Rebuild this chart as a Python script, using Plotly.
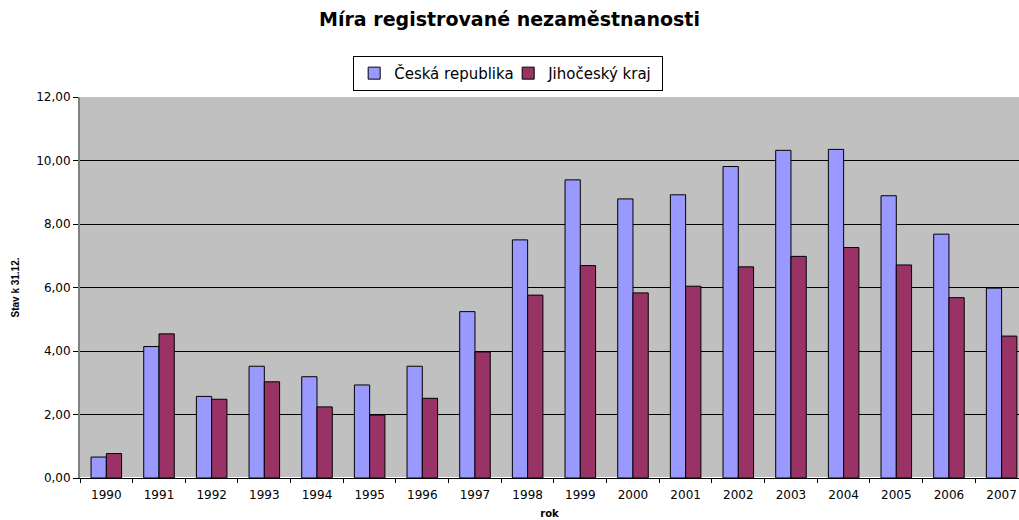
import plotly.graph_objects as go

years = ["1990", "1991", "1992", "1993", "1994", "1995", "1996", "1997", "1998",
         "1999", "2000", "2001", "2002", "2003", "2004", "2005", "2006", "2007"]
cr = [0.66, 4.14, 2.57, 3.52, 3.19, 2.93, 3.52, 5.24, 7.50,
      9.39, 8.79, 8.92, 9.81, 10.32, 10.35, 8.89, 7.68, 5.98]
jck = [0.77, 4.54, 2.48, 3.03, 2.24, 1.98, 2.51, 3.97, 5.76,
       6.69, 5.83, 6.04, 6.65, 6.98, 7.26, 6.71, 5.68, 4.47]
yticks = [0, 2, 4, 6, 8, 10, 12]

fig = go.Figure()
fig.add_trace(go.Bar(x=years, y=cr, name="Česká republika",
                     marker=dict(color="#9999FF", line=dict(color="black", width=1))))
fig.add_trace(go.Bar(x=years, y=jck, name="Jihočeský kraj",
                     marker=dict(color="#993366", line=dict(color="black", width=1))))

fig.update_layout(
    width=1019, height=520,
    margin=dict(l=80, r=0, t=97, b=42, autoexpand=False),
    paper_bgcolor="white", plot_bgcolor="#C0C0C0",
    separators=", ",
    font=dict(family="DejaVu Sans, Arial, sans-serif", color="black", size=12),
    barmode="group", bargap=0.42, bargroupgap=0,
    title=dict(text="<b>Míra registrované nezaměstnanosti</b>", x=0.5, xanchor="center",
               y=0.962, yanchor="middle", font=dict(size=19)),
    showlegend=True,
    legend=dict(orientation="h", x=0.456, xanchor="center", y=1.062, yanchor="middle",
                bgcolor="white", bordercolor="black", borderwidth=1,
                font=dict(size=15), itemwidth=30, tracegroupgap=0,
                entrywidth=109, entrywidthmode="pixels"),
    xaxis=dict(type="category", range=[-0.5, 17.33], showgrid=False,
               showline=True, linecolor="black", linewidth=1,
               ticks="outside", tickson="boundaries", ticklen=4, tickcolor="black",
               tickfont=dict(size=12), ticklabelstandoff=6,
               title=dict(text="<b>rok</b>", font=dict(size=10), standoff=8)),
    yaxis=dict(range=[0, 12], tickvals=yticks, tickformat=".2f",
               showgrid=True, gridcolor="black", gridwidth=1,
               showline=True, linecolor="#808080", linewidth=2, mirror=True,
               ticks="outside", ticklen=5, tickcolor="black",
               tickfont=dict(size=12),
               title=dict(text="<b>Stav k 31.12.</b>",
                          font=dict(size=10, family="Liberation Sans, Arial, sans-serif"),
                          standoff=15)),
)

fig.write_html("out.html", config={"displayModeBar": False},
               post_script="document.body.style.margin='0';document.body.style.overflow='hidden';")
